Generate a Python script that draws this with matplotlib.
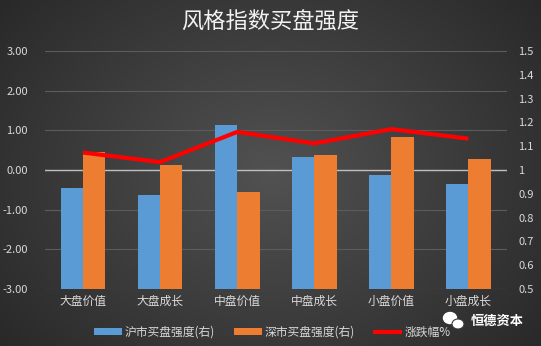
import numpy as np
import matplotlib
matplotlib.use("Agg")
import matplotlib.pyplot as plt
from matplotlib.patches import Ellipse

plt.rcParams['font.family'] = ['Noto Sans CJK SC', 'DejaVu Sans']

categories = ['大盘价值', '大盘成长', '中盘价值', '中盘成长', '小盘价值', '小盘成长']
sh_buy = [0.923, 0.895, 1.19, 1.053, 0.979, 0.941]   # 沪市买盘强度(右)
sz_buy = [1.075, 1.021, 0.906, 1.063, 1.139, 1.045]  # 深市买盘强度(右)
change = [0.44, 0.20, 0.96, 0.67, 1.03, 0.79]       # 涨跌幅%
left_ticks = [-3, -2, -1, 0, 1, 2, 3]
right_ticks = [0.5, 0.6, 0.7, 0.8, 0.9, 1.0, 1.1, 1.2, 1.3, 1.4, 1.5]

W, H = 541, 346
fig = plt.figure(figsize=(W / 100, H / 100), dpi=100)

# dark radial background
bg = fig.add_axes([0, 0, 1, 1], zorder=-10)
yy, xx = np.mgrid[0:H, 0:W]
r = np.sqrt(((xx - W * 0.5) / (W * 0.6)) ** 2 + ((yy - H * 0.5) / (H * 0.75)) ** 2)
shade = np.clip(0.32 - 0.15 * r, 0.15, 0.32)
bg.imshow(np.dstack([shade] * 3), aspect='auto', extent=[0, 1, 0, 1])
bg.axis('off')

txt = '#d9d9d9'
rect = [44.5 / W, 1 - 289 / H, (507 - 44.5) / W, (289 - 51) / H]

# left axis: grid + ticks
ax = fig.add_axes(rect, zorder=0)
ax.set_facecolor('none')
ax.set_ylim(-3, 3)
ax.set_xlim(-0.5, len(categories) - 0.5)
ax.set_yticks(left_ticks)
ax.set_yticklabels(['%.2f' % v for v in left_ticks], color=txt, fontsize=8)
ax.set_xticks(range(len(categories)))
ax.set_xticklabels(categories, color=txt, fontsize=8.5)
ax.tick_params(length=0, pad=4)
ax.tick_params(axis='y', pad=12)
for v in left_ticks:
    ax.axhline(v, color='#5c5c5c', lw=0.8)
ax.axhline(0, color='#bfbfbf', lw=1)
for s in ax.spines.values():
    s.set_visible(False)

# right axis: bars
ax2 = ax.twinx()
ax2.set_zorder(1)
ax2.patch.set_visible(False)
ax2.set_ylim(0.5, 1.5)
ax2.set_yticks(right_ticks)
ax2.set_yticklabels(['%g' % v for v in right_ticks], color=txt, fontsize=8)
ax2.tick_params(length=0, pad=8)
x = np.arange(len(categories))
bw = 0.29
ax2.bar(x - bw / 2, sh_buy, bw, color='#5b9bd5', label='沪市买盘强度(右)')
ax2.bar(x + bw / 2, sz_buy, bw, color='#ed7d31', label='深市买盘强度(右)')
for s in ax2.spines.values():
    s.set_visible(False)

# line on left scale, on top
ax3 = ax.twinx()
ax3.set_zorder(2)
ax3.patch.set_visible(False)
ax3.set_ylim(-3, 3)
ax3.set_yticks([])
ax3.plot(x, change, color='#ff0000', lw=3, solid_capstyle='butt', label='涨跌幅%')
for s in ax3.spines.values():
    s.set_visible(False)

h2, l2 = ax2.get_legend_handles_labels()
h3, l3 = ax3.get_legend_handles_labels()
fig.legend(h2 + h3, l2 + l3, loc='center', bbox_to_anchor=(272 / W, 1 - 332 / H),
           ncol=3, frameon=False, fontsize=8.5, labelcolor=txt,
           handlelength=2.4, handleheight=0.5, handletextpad=0.2, columnspacing=1.6)

fig.text(270 / W, 1 - 22 / H, '风格指数买盘强度', ha='center', va='center',
         fontsize=16, color='#f2f2f2')

# watermark
fig.patches.append(Ellipse((450 / W, 1 - 318 / H), 13 / W, 11 / H, color='white',
                           transform=fig.transFigure))
fig.patches.append(Ellipse((458 / W, 1 - 324 / H), 12 / W, 10 / H, color='white',
                           ec='#3a3a3a', lw=0.8, transform=fig.transFigure))
fig.text(497 / W, 1 - 321 / H, '恒德资本', ha='center', va='center',
         fontsize=9.5, color='white', fontweight='bold')

fig.savefig('out.png', dpi=100)
